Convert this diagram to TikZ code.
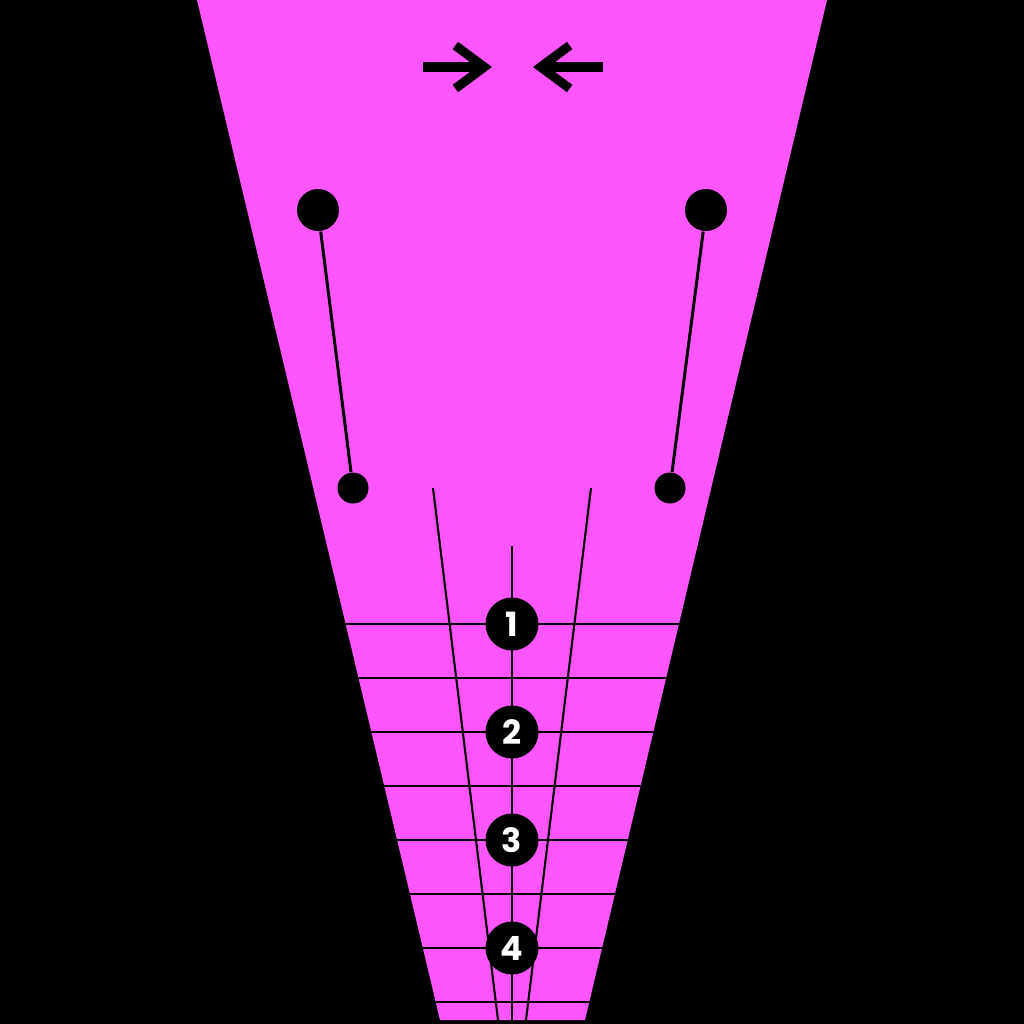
\documentclass[tikz,border=0pt]{standalone}
\usepackage{fontspec}
\setmainfont{Poppins}
\usetikzlibrary{arrows.meta}
\definecolor{magentabg}{RGB}{255,85,255}
\tikzset{
  knob/.style={circle,fill=black,inner sep=0pt,minimum size=#1},
  numdot/.style={circle,fill=black,inner sep=0pt,minimum size=0.53cm,text=white,font=\fontsize{9.5}{9.5}\selectfont\bfseries},
  thin line/.style={black,line width=0.6pt},
  push/.style={black,line width=2.6pt,-{Straight Barb[length=2.9mm,width=4.3mm]}}
}
\begin{document}
\begin{tikzpicture}
  \fill[black] (0,0) rectangle (10.24,-10.24);
  \useasboundingbox (0,0) rectangle (10.24,-10.24);
  \fill[magentabg] (1.97,0) -- (8.27,0) -- (5.85,-10.2) -- (4.40,-10.2) -- cycle;
  % arrows pointing inward
  \coordinate (la) at (4.23,-0.67); \coordinate (lb) at (4.92,-0.67);
  \coordinate (ra) at (6.03,-0.67); \coordinate (rb) at (5.33,-0.67);
  \draw[push] (la) -- (lb); \draw[push] (ra) -- (rb);
  % dumbbells
  \node[knob=0.42cm] (lt) at (3.18,-2.10) {}; \node[knob=0.31cm] (lbot) at (3.53,-4.88) {};
  \node[knob=0.42cm] (rt) at (7.06,-2.10) {}; \node[knob=0.31cm] (rbot) at (6.70,-4.88) {};
  \draw[black,line width=0.85pt] (lt) -- (lbot); \draw[black,line width=0.85pt] (rt) -- (rbot);
  % grid
  \begin{scope}
    \clip (1.97,0) -- (8.27,0) -- (5.85,-10.2) -- (4.40,-10.2) -- cycle;
    \foreach \y in {6.24,6.78,...,10.1} \draw[thin line] (0,-\y) -- (10.24,-\y);
  \end{scope}
  \coordinate (c0) at (5.12,-5.46); \coordinate (c1) at (5.12,-10.2);
  \coordinate (s0) at (4.33,-4.88); \coordinate (s1) at (4.98,-10.2);
  \coordinate (t0) at (5.91,-4.88); \coordinate (t1) at (5.26,-10.2);
  \draw[thin line] (c0) -- (c1); \draw[thin line] (s0) -- (s1); \draw[thin line] (t0) -- (t1);
  \foreach \n/\y in {1/6.24,2/7.32,3/8.40,4/9.48} \node[numdot] (n\n) at (5.12,-\y) {\n};
\end{tikzpicture}
\end{document}
